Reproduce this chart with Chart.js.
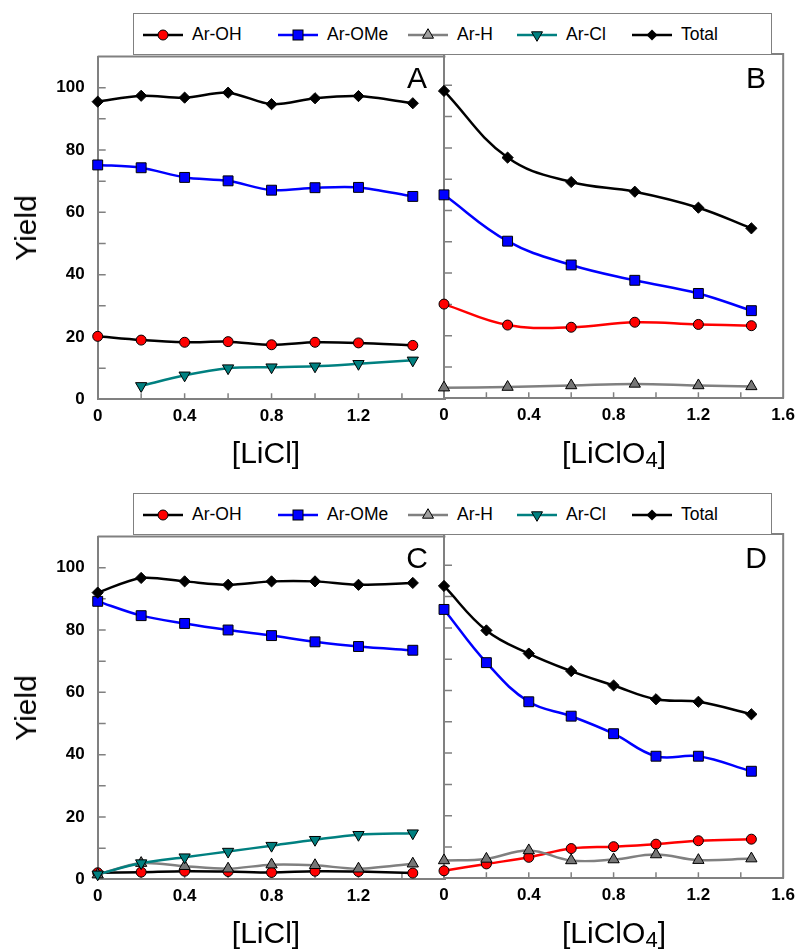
<!DOCTYPE html>
<html>
<head>
<meta charset="utf-8">
<title>Yield vs [LiCl] and [LiClO4]</title>
<script src="https://cdn.jsdelivr.net/npm/chart.js@4.4.1/dist/chart.umd.min.js"></script>
<style>
    html, body { margin: 0; padding: 0; background: #fff; }
    body {
        width: 802px; height: 949px; position: relative; overflow: hidden;
        font-family: "Liberation Sans", Arial, sans-serif; color: #000;
    }
    .half { position: absolute; left: 0; width: 802px; height: 480px; }
    .half canvas { position: absolute; top: 0; }
    .legend {
        position: absolute; left: 133px; top: 13px; width: 639px; height: 42px;
        box-sizing: border-box; border: 1px solid #808080; background: #fff;
    }
    .legend-item svg { position: absolute; top: 13px; }
    .legend-item span { position: absolute; top: 10px; font-size: 17.5px; line-height: 20px; white-space: nowrap; }
    .tag, .axis-title {
        position: absolute; font-size: 30px; line-height: 30px; white-space: nowrap;
        transform: translate(-50%, -50%);
    }
    .axis-title.y { transform: translate(-50%, -50%) rotate(-90deg); }
    .axis-title sub { font-size: 22px; line-height: 0; vertical-align: -4px; }
</style>
</head>
<body>

<div class="half" id="top"></div>
<div class="half" id="bottom" style="top:480px"></div>

<script>
// ─── data ───────────────────────────────────────────────────────────────────

const SERIES = ['Ar-OH', 'Ar-OMe', 'Ar-H', 'Ar-Cl', 'Total'];

// [LiCl] panels (A, C) and [LiClO4] panels (B, D)
const xLiCl  = [0, 0.2, 0.4, 0.6, 0.8, 1.0, 1.2, 1.45];
const xLiClO4B = [0, 0.3, 0.6, 0.9, 1.2, 1.45];
const xLiClO4D = [0, 0.2, 0.4, 0.6, 0.8, 1.0, 1.2, 1.45];

// panel A
const aOH    = [20.2, 19.0, 18.3, 18.5, 17.5, 18.3, 18.1, 17.3];
const aOMe   = [75.2, 74.3, 71.2, 70.1, 67.1, 67.9, 68.0, 65.1];
const aCl    = [null, 4.3, 7.7, 10.0, 10.3, 10.6, 11.4, 12.5];
const aTotal = [95.5, 97.4, 96.8, 98.4, 94.7, 96.6, 97.3, 95.0];

// panel B
const bOH    = [30.1, 23.4, 22.7, 24.3, 23.6, 23.2];
const bOMe   = [65.0, 50.2, 42.6, 37.7, 33.5, 28.0];
const bH     = [3.4, 3.6, 4.1, 4.6, 4.1, 3.8];
const bTotal = [98.2, 76.9, 69.1, 66.0, 60.9, 54.3];

// panel C
const cOH    = [2.1, 2.3, 2.6, 2.5, 2.2, 2.6, 2.5, 2.0];
const cOMe   = [89.2, 84.6, 82.1, 80.0, 78.2, 76.2, 74.7, 73.5];
const cH     = [1.5, 5.2, 4.2, 3.4, 4.7, 4.5, 3.4, 5.0];
const cCl    = [1.6, 5.2, 7.1, 8.9, 10.8, 12.7, 14.3, 14.8];
const cTotal = [92.0, 96.7, 95.6, 94.5, 95.6, 95.6, 94.5, 95.1];

// panel D
const dOH    = [2.4, 4.6, 6.7, 9.5, 10.1, 10.9, 12.0, 12.5];
const dOMe   = [85.9, 68.9, 56.4, 51.8, 46.2, 39.0, 39.0, 34.2];
const dH     = [5.7, 6.2, 8.9, 5.7, 6.0, 7.6, 5.8, 6.3];
const dTotal = [93.4, 79.2, 71.8, 66.2, 61.6, 57.2, 56.4, 52.4];

const X_MAX = 1.6;
const Y_MAX = 110;

// ─── styles ─────────────────────────────────────────────────────────────────

const AXIS = '#808080';
const STYLE = {
    'Ar-OH':  {line: '#000000', fill: '#ff0000', shape: 'circle',   radius: 5,   order: 4},
    'Ar-OMe': {line: '#0000ff', fill: '#0000ff', shape: 'rect',     radius: 7,   order: 3},
    'Ar-H':   {line: '#808080', fill: '#767676', shape: 'triangle', radius: 6.5, order: 2},
    'Ar-Cl':  {line: '#008080', fill: '#008080', shape: 'triangle', radius: 6.5, order: 1, rotation: 180},
    'Total':  {line: '#000000', fill: '#000000', shape: 'rectRot',  radius: 5.6, order: 0},
};

Chart.defaults.font.family = '"Liberation Sans", Arial, sans-serif';
Chart.defaults.color = '#000';

// inward tick marks + top/right frame, drawn under the data
const frameTicks = {
    id: 'frameTicks',
    beforeDatasetsDraw(chart, args, opts) {
        const {ctx, chartArea: a, scales: {x, y}} = chart;
        ctx.save();
        ctx.strokeStyle = AXIS;
        ctx.lineWidth = 1.5;
        ctx.beginPath();
        x.ticks.forEach(t => {
            if (t.value <= 0 || t.value >= X_MAX) return;
            const px = x.getPixelForValue(t.value);
            ctx.moveTo(px, a.bottom);
            ctx.lineTo(px, a.bottom - 6);
        });
        y.ticks.forEach(t => {
            if (t.value <= 0 || t.value >= Y_MAX) return;
            const py = y.getPixelForValue(t.value);
            ctx.moveTo(a.left, py);
            ctx.lineTo(a.left + 8, py);
        });
        ctx.stroke();
        ctx.lineWidth = 2;
        ctx.beginPath();
        ctx.moveTo(a.left, a.top);
        ctx.lineTo(a.right, a.top);
        if (opts.right) ctx.lineTo(a.right, a.bottom);
        ctx.stroke();
        ctx.restore();
    }
};

// ─── builders ───────────────────────────────────────────────────────────────

function dataset(name, xs, ys, ohLine, tension) {
    const s = STYLE[name];
    const line = name === 'Ar-OH' ? ohLine : s.line;
    return {
        label: name,
        data: xs.map((x, i) => ({x, y: ys[i]})),
        borderColor: line,
        backgroundColor: s.fill,
        borderWidth: 2.5,
        pointStyle: s.shape,
        pointRadius: s.radius,
        pointRotation: s.rotation || 0,
        pointBackgroundColor: s.fill,
        pointBorderColor: '#000',
        pointBorderWidth: 1,
        tension,
        clip: false,
        order: s.order,
    };
}

function isMultiple(v, step) {
    return Math.abs(v / step - Math.round(v / step)) < 1e-6;
}

function makePanel(host, {left, width, padding, yWidth, yLabels, lastX, right, datasets}) {
    const canvas = document.createElement('canvas');
    canvas.width = width;
    canvas.height = 480;
    canvas.style.left = left + 'px';
    host.appendChild(canvas);

    return new Chart(canvas.getContext('2d'), {
        type: 'line',
        data: {datasets},
        plugins: [frameTicks],
        options: {
            responsive: false,
            animation: false,
            devicePixelRatio: 1,
            layout: {padding},
            plugins: {legend: {display: false}, tooltip: {enabled: false}, frameTicks: {right}},
            scales: {
                x: {
                    type: 'linear', min: 0, max: X_MAX,
                    grid: {display: false, drawTicks: false},
                    border: {color: AXIS, width: 2},
                    afterFit: s => { s.height = 40; },
                    ticks: {
                        stepSize: 0.2, autoSkip: false, maxRotation: 0, padding: 7,
                        font: {size: 17, weight: 'bold'},
                        callback: v => {
                            if (!isMultiple(v, 0.4)) return '';
                            if (v >= X_MAX - 1e-6 && !lastX) return '';
                            return v === 0 ? '0' : v.toFixed(1);
                        }
                    }
                },
                y: {
                    type: 'linear', min: 0, max: Y_MAX,
                    grid: {display: false, drawTicks: false},
                    border: {color: AXIS, width: 2},
                    afterFit: s => { s.width = yWidth; },
                    ticks: {
                        stepSize: 10, padding: 13,
                        font: {size: 17, weight: 'bold'},
                        callback: v => (yLabels && isMultiple(v, 20) && v <= 100) ? String(v) : ''
                    }
                }
            }
        }
    });
}

function legendSvg(name) {
    const s = STYLE[name];
    const c = 20, m = 8;
    let mark;
    if (s.shape === 'circle') mark = `<circle cx="${c}" cy="${m}" r="5" fill="${s.fill}" stroke="#000"/>`;
    else if (s.shape === 'rect') mark = `<rect x="${c - 5}" y="${m - 5}" width="10" height="10" fill="${s.fill}" stroke="#000"/>`;
    else if (s.shape === 'rectRot') mark = `<polygon points="${c - 5.5},${m} ${c},${m - 5.5} ${c + 5.5},${m} ${c},${m + 5.5}" fill="#000"/>`;
    else if (s.rotation) mark = `<polygon points="${c - 5.5},${m - 3.2} ${c + 5.5},${m - 3.2} ${c},${m + 6.3}" fill="${s.fill}" stroke="#000"/>`;
    else mark = `<polygon points="${c - 5.5},${m + 3.2} ${c + 5.5},${m + 3.2} ${c},${m - 6.3}" fill="#a0a0a0" stroke="#000"/>`;
    return `<svg width="40" height="16"><line x1="0" y1="${m}" x2="40" y2="${m}" stroke="${s.line}" stroke-width="2.6"/>${mark}</svg>`;
}

function makeLegend(host) {
    // left edge of each item's line sample, relative to the box
    const at = [9, 144, 274, 383, 498];
    const box = document.createElement('div');
    box.className = 'legend';
    box.innerHTML = SERIES.map((name, i) => `
        <div class="legend-item">
            <span style="left:${at[i] + 49}px">${name}</span>
        </div>`).join('');
    box.querySelectorAll('.legend-item').forEach((el, i) => {
        el.insertAdjacentHTML('afterbegin', legendSvg(SERIES[i]).replace('<svg', `<svg style="left:${at[i]}px"`));
    });
    host.appendChild(box);
}

function addText(host, cls, html, x, y) {
    const el = document.createElement('div');
    el.className = cls;
    el.style.left = x + 'px';
    el.style.top = y + 'px';
    el.innerHTML = html;
    host.appendChild(el);
}

function makeHalf(host, left, right) {
    makePanel(host, {
        left: 0, width: 460, yWidth: 97.7, yLabels: true, lastX: false, right: false,
        padding: {left: 0, top: 56.5, right: 14.6, bottom: 40.7},
        datasets: left.datasets
    });
    makePanel(host, {
        left: 430, width: 372, yWidth: 0, yLabels: false, lastX: true, right: true,
        padding: {left: 14, top: 54, right: 13.7, bottom: 41.7},
        datasets: right.datasets
    });
    makeLegend(host);
    addText(host, 'tag', left.tag, 417, 78);
    addText(host, 'tag', right.tag, 756, 78);
    addText(host, 'axis-title y', 'Yield', 26, 228);
    addText(host, 'axis-title', '[LiCl]', 266, 453);
    addText(host, 'axis-title', '[LiClO<sub>4</sub>]', 614, 453);
}

// ─── render ─────────────────────────────────────────────────────────────────

makeHalf(document.getElementById('top'), {
    tag: 'A',
    datasets: [
        dataset('Ar-OH', xLiCl, aOH, '#000000', 0.3),
        dataset('Ar-OMe', xLiCl, aOMe, null, 0.3),
        dataset('Ar-Cl', xLiCl, aCl, null, 0.3),
        dataset('Total', xLiCl, aTotal, null, 0.3),
    ]
}, {
    tag: 'B',
    datasets: [
        dataset('Ar-OH', xLiClO4B, bOH, '#ff0000', 0.4),
        dataset('Ar-OMe', xLiClO4B, bOMe, null, 0.4),
        dataset('Ar-H', xLiClO4B, bH, null, 0.4),
        dataset('Total', xLiClO4B, bTotal, null, 0.4),
    ]
});

makeHalf(document.getElementById('bottom'), {
    tag: 'C',
    datasets: [
        dataset('Ar-OH', xLiCl, cOH, '#000000', 0.3),
        dataset('Ar-OMe', xLiCl, cOMe, null, 0.3),
        dataset('Ar-H', xLiCl, cH, null, 0.3),
        dataset('Ar-Cl', xLiCl, cCl, null, 0.3),
        dataset('Total', xLiCl, cTotal, null, 0.3),
    ]
}, {
    tag: 'D',
    datasets: [
        dataset('Ar-OH', xLiClO4D, dOH, '#ff0000', 0.4),
        dataset('Ar-OMe', xLiClO4D, dOMe, null, 0.4),
        dataset('Ar-H', xLiClO4D, dH, null, 0.4),
        dataset('Total', xLiClO4D, dTotal, null, 0.4),
    ]
});
</script>
</body>
</html>
